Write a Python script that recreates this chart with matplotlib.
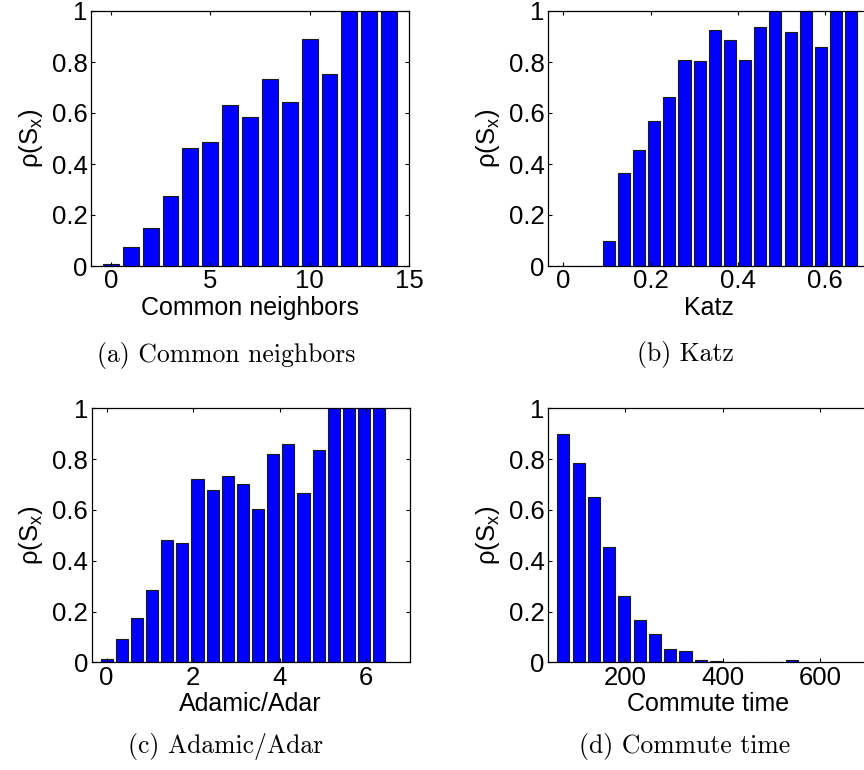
import matplotlib
matplotlib.use("Agg")
import matplotlib.pyplot as plt
from matplotlib.ticker import FuncFormatter

plt.rcParams['font.family'] = ['Liberation Sans', 'DejaVu Sans']
plt.rcParams['mathtext.fontset'] = 'custom'
plt.rcParams['mathtext.rm'] = 'Liberation Sans'

# ---- data ----
cn_x = [0, 1, 2, 3, 4, 5, 6, 7, 8, 9, 10, 11, 12, 13, 14]
cn_y = [0.008, 0.076, 0.148, 0.276, 0.462, 0.486, 0.632, 0.584, 0.734,
        0.644, 0.889, 0.751, 1.0, 1.0, 1.0]

katz_x = [0.0, 0.0347, 0.0694, 0.1041, 0.1388, 0.1735, 0.2082, 0.2429,
          0.2776, 0.3123, 0.347, 0.3817, 0.4164, 0.4511, 0.4858, 0.5205,
          0.5552, 0.5899, 0.6246, 0.6593]
katz_y = [0.0, 0.0, 0.0, 0.097, 0.366, 0.453, 0.568, 0.664, 0.806, 0.805,
          0.927, 0.885, 0.809, 0.938, 1.0, 0.918, 1.0, 0.857, 1.0, 1.0]

aa_x = [0.0, 0.35, 0.7, 1.05, 1.4, 1.75, 2.1, 2.45, 2.8, 3.15, 3.5, 3.85,
        4.2, 4.55, 4.9, 5.25, 5.6, 5.95, 6.3]
aa_y = [0.012, 0.092, 0.173, 0.285, 0.480, 0.468, 0.722, 0.678, 0.734,
        0.701, 0.602, 0.819, 0.860, 0.667, 0.835, 1.0, 1.0, 1.0, 1.0]

ct_x = [73.0, 104.3, 135.6, 166.9, 198.2, 229.5, 260.8, 292.1, 323.4,
        354.7, 386.0, 417.3, 448.6, 479.9, 511.2, 542.5]
ct_y = [0.899, 0.783, 0.652, 0.453, 0.260, 0.167, 0.110, 0.054, 0.043,
        0.0105, 0.0065, 0.003, 0.0, 0.003, 0.0, 0.011]

panels = [
    dict(x=cn_x, y=cn_y, w=1.0, xlim=(-1, 15), xt=[0, 5, 10, 15],
         xlabel='Common neighbors', cap='(a) Common neighbors'),
    dict(x=katz_x, y=katz_y, w=0.0347, xlim=(-0.0347, 0.7), xt=[0, 0.2, 0.4, 0.6],
         xlabel='Katz', cap='(b) Katz'),
    dict(x=aa_x, y=aa_y, w=0.35, xlim=(-0.35, 7), xt=[0, 2, 4, 6],
         xlabel='Adamic/Adar', cap='(c) Adamic/Adar'),
    dict(x=ct_x, y=ct_y, w=31.3, xlim=(41.5, 700), xt=[200, 400, 600],
         xlabel='Commute time', cap='(d) Commute time'),
]

W, H = 864, 770
fig = plt.figure(figsize=(W / 100, H / 100), dpi=100)

# axes boxes in pixels: left, top, width, height
boxes = [(91, 11, 318, 255), (548, 11, 321, 255),
         (91.5, 408.3, 318, 254), (548, 408.3, 321, 254)]
caps = [(226, 362), (685, 361), (226, 753), (685, 753)]

fmt = FuncFormatter(lambda v, p: '%g' % round(v, 6))

for p, (l, t, w, h), (cx, cy) in zip(panels, boxes, caps):
    ax = fig.add_axes([l / W, 1 - (t + h) / H, w / W, h / H])
    ax.bar(p['x'], p['y'], width=0.8 * p['w'], color='#0000ff',
           edgecolor='#1a1a1a', linewidth=0.8)
    ax.set_xlim(*p['xlim'])
    ax.set_ylim(0, 1)
    ax.set_xticks(p['xt'])
    ax.set_yticks([0, 0.2, 0.4, 0.6, 0.8, 1.0])
    ax.xaxis.set_major_formatter(fmt)
    ax.yaxis.set_major_formatter(fmt)
    ax.tick_params(direction='in', length=3, width=0.8, labelsize=18.5,
                   top=True, right=True, pad=2.5, colors='black')
    for s in ax.spines.values():
        s.set_linewidth(0.9)
        s.set_color('black')
    ax.set_xlabel(p['xlabel'], fontsize=18, labelpad=1.5)
    ax.set_ylabel(r'ρ(S$_\mathregular{x}$)', fontsize=18.5, labelpad=5)
    fig.text(cx / W, 1 - cy / H, p['cap'], ha='center', va='baseline',
             family='cmr10', fontsize=18.5)

fig.savefig('out.png', dpi=100)
